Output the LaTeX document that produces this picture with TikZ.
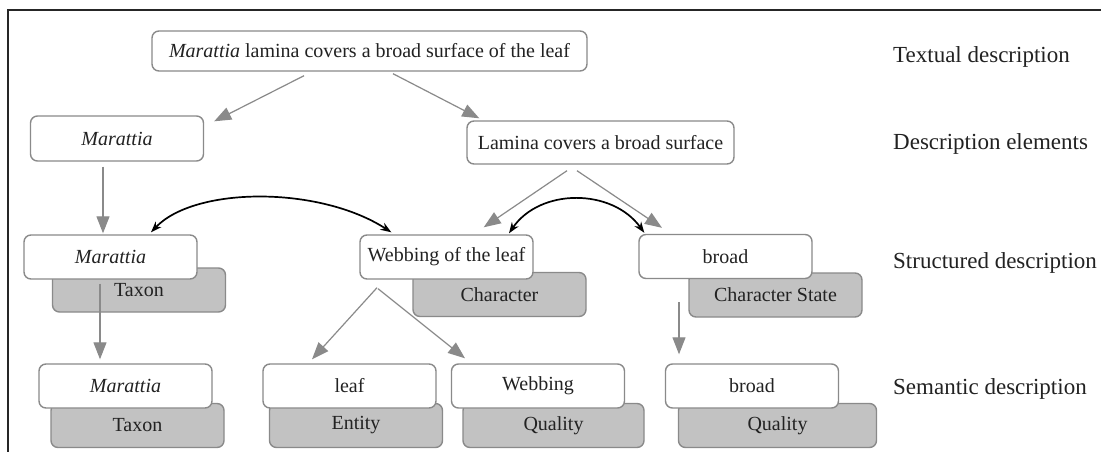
\documentclass[tikz,border=0pt]{standalone}
\usepackage{fontspec}
\setmainfont{Liberation Serif}
\usetikzlibrary{arrows.meta}
\definecolor{edgegray}{HTML}{8A8A8A}
\definecolor{fillgray}{HTML}{C2C2C2}
\definecolor{inkgray}{HTML}{222222}
\begin{document}
\begin{tikzpicture}[x=1pt,y=-1pt,
  wbox/.style={draw=edgegray, line width=1.4pt, fill=white, rounded corners=7pt,
    minimum width=173pt, minimum height=44pt, inner sep=0pt, text=inkgray,
    font=\fontsize{20}{24}\selectfont},
  gbox/.style={wbox, fill=fillgray},
  lbl/.style={anchor=west, inner sep=0pt, text=inkgray, font=\fontsize{23}{27}\selectfont},
  garrow/.style={color=edgegray, line width=1.2pt, -{Triangle[length=17pt,width=13pt]}},
  barrow/.style={draw=black, line width=1.7pt,
    {Stealth[length=11pt,width=8pt]}-{Stealth[length=11pt,width=8pt]}}
]
\useasboundingbox (0,0) rectangle (1101,452);
\fill[white] (0,0) rectangle (1101,452);
% frame lines
\draw[line width=1.5pt, black!85] (8,452) -- (8,10) -- (1101,10);

% row labels
\node[lbl] (l1) at (893,57) {Textual description};
\node[lbl] (l2) at (893,144) {Description elements};
\node[lbl] (l3) at (893,263) {Structured description};
\node[lbl] (l4) at (893,389) {Semantic description};

% textual description
\node[wbox, minimum width=435pt, minimum height=40pt] (top) at (369.5,51)
  {\textit{Marattia} lamina covers a broad surface of the leaf};

% description elements
\node[wbox, minimum height=45pt] (mde) at (117,138.5) {\textit{Marattia}};
\node[wbox, minimum width=267pt, minimum height=43pt] (lam) at (600.5,142.5) {Lamina covers a broad surface};

% structured description
\node[gbox] (stx) at (139,290) {Taxon};
\node[wbox] (smar) at (110.5,257) {\textit{Marattia}};
\node[gbox] (sch) at (499.5,294.5) {Character};
\node[wbox] (sweb) at (446.5,257) {Webbing of the leaf};
\node[gbox] (scs) at (775.5,295) {Character State};
\node[wbox] (sbr) at (725.5,256.5) {broad};

% semantic description
\node[gbox] (mtx) at (137.5,425.5) {Taxon};
\node[wbox] (mmar) at (125.5,386) {\textit{Marattia}};
\node[gbox] (ment) at (356,425.5) {Entity};
\node[wbox] (mleaf) at (349.5,386) {leaf};
\node[gbox, minimum width=181pt] (mq1) at (553.5,425.5) {Quality};
\node[wbox] (mweb) at (538,386) {Webbing};
\node[gbox, minimum width=198pt] (mq2) at (777.5,425.5) {Quality};
\node[wbox] (mbr) at (752,386) {broad};

% decomposition arrows
\draw[garrow] ([shift={(-65.5,4)}]top.south) -- ([shift={(10,6)}]mde.north east);
\draw[garrow] ([shift={(23.5,2)}]top.south) -- ([shift={(13,-2)}]lam.north west);
\draw[garrow] ([shift={(-14,5)}]mde.south) -- ([shift={(-7.5,-1)}]smar.north);
\draw[garrow] ([shift={(-33.5,6)}]lam.south) -- ([shift={(-50,-7)}]sweb.north east);
\draw[garrow] ([shift={(-23.5,6)}]lam.south) -- ([shift={(-63.5,-6)}]sbr.north);
\draw[garrow] ([shift={(-10.5,4)}]smar.south) -- ([shift={(-25.5,-4)}]mmar.north);
\draw[garrow] ([shift={(-69.5,8)}]sweb.south) -- ([shift={(-37.5,-4)}]mleaf.north);
\draw[garrow] ([shift={(-68.5,9)}]sweb.south) -- ([shift={(-73,-5)}]mweb.north);
\draw[garrow] ([shift={(-46.5,23)}]sbr.south) -- ([shift={(-73,-9)}]mbr.north);

% relations between structured elements
\draw[barrow] ([shift={(40.5,-2)}]smar.north) .. controls (195,186) and (320,186) .. ([shift={(32,-2)}]sweb.north west);
\draw[barrow] ([shift={(62.5,-1)}]sweb.north) .. controls (540,188) and (612,188) .. ([shift={(6,-1)}]sbr.north west);
\end{tikzpicture}
\end{document}
